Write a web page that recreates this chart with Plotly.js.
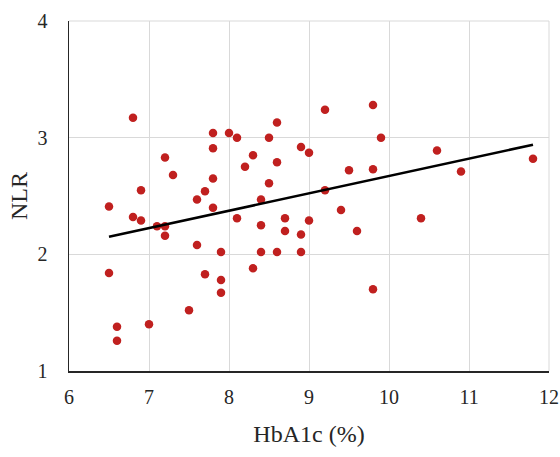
<!DOCTYPE html>
<html>
<head>
<meta charset="utf-8">
<script src="https://cdn.plot.ly/plotly-3.0.1.min.js"></script>
<style>html,body{margin:0;padding:0;background:#fff;}#chart{width:560px;height:457px;}</style>
</head>
<body>
<div id="chart"></div>
<script>
const hba1c = [6.5,6.5,6.6,6.6,6.8,6.8,6.9,6.9,7.0,7.1,7.2,7.2,7.2,7.3,7.5,7.6,7.6,7.7,7.7,7.8,7.8,7.8,7.8,7.9,7.9,7.9,8.0,8.1,8.1,8.2,8.3,8.3,8.4,8.4,8.4,8.5,8.5,8.6,8.6,8.6,8.7,8.7,8.9,8.9,8.9,9.0,9.0,9.2,9.2,9.4,9.5,9.6,9.8,9.8,9.8,9.9,10.4,10.6,10.9,11.8];
const nlr = [2.41,1.84,1.38,1.26,3.17,2.32,2.55,2.29,1.40,2.24,2.83,2.24,2.16,2.68,1.52,2.47,2.08,2.54,1.83,3.04,2.91,2.65,2.40,2.02,1.78,1.67,3.04,3.00,2.31,2.75,2.85,1.88,2.47,2.25,2.02,3.00,2.61,3.13,2.79,2.02,2.31,2.20,2.92,2.17,2.02,2.87,2.29,3.24,2.55,2.38,2.72,2.20,3.28,2.73,1.70,3.00,2.31,2.89,2.71,2.82];
const trendX = [6.5, 11.8];
const trendY = [2.15, 2.94];
const xTicks = [6,7,8,9,10,11,12];
const yTicks = [1,2,3,4];

const serif = 'Liberation Serif, Times New Roman, serif';

const data = [
  {
    x: hba1c, y: nlr, type: 'scatter', mode: 'markers',
    marker: {color: '#c0201f', size: 8.5},
    showlegend: false, cliponaxis: false
  },
  {
    x: trendX, y: trendY, type: 'scatter', mode: 'lines',
    line: {color: '#000000', width: 2.5},
    showlegend: false
  }
];

const layout = {
  width: 560, height: 457,
  margin: {l: 69, r: 11, t: 21, b: 86},
  paper_bgcolor: '#ffffff', plot_bgcolor: '#ffffff',
  font: {family: serif, color: '#262626'},
  showlegend: false,
  xaxis: {
    range: [6, 12], tickvals: xTicks, ticktext: xTicks.map(String),
    showgrid: true, gridcolor: '#d9d9d9', gridwidth: 1,
    zeroline: false, showline: true, linecolor: '#262626', linewidth: 1.5,
    ticks: 'outside', ticklen: 7, tickcolor: 'rgba(0,0,0,0)',
    tickfont: {family: serif, size: 20, color: '#262626'},
    title: {text: 'HbA1c (%)', font: {family: serif, size: 24, color: '#262626'}, standoff: 18}
  },
  yaxis: {
    range: [1, 4], tickvals: yTicks, ticktext: yTicks.map(String),
    showgrid: true, gridcolor: '#d9d9d9', gridwidth: 1,
    zeroline: false, showline: true, linecolor: '#262626', linewidth: 1.5,
    ticks: 'outside', ticklen: 16, tickcolor: 'rgba(0,0,0,0)',
    tickfont: {family: serif, size: 20, color: '#262626'},
    title: {text: 'NLR', font: {family: serif, size: 24, color: '#262626'}, standoff: 3}
  },
  shapes: [
    {type: 'line', xref: 'paper', yref: 'paper', x0: 0, x1: 1, y0: 1, y1: 1, line: {color: '#d9d9d9', width: 1}},
    {type: 'line', xref: 'paper', yref: 'paper', x0: 1, x1: 1, y0: 0, y1: 1, line: {color: '#d9d9d9', width: 1}}
  ]
};

Plotly.newPlot('chart', data, layout, {displayModeBar: false, staticPlot: true});
</script>
</body>
</html>
